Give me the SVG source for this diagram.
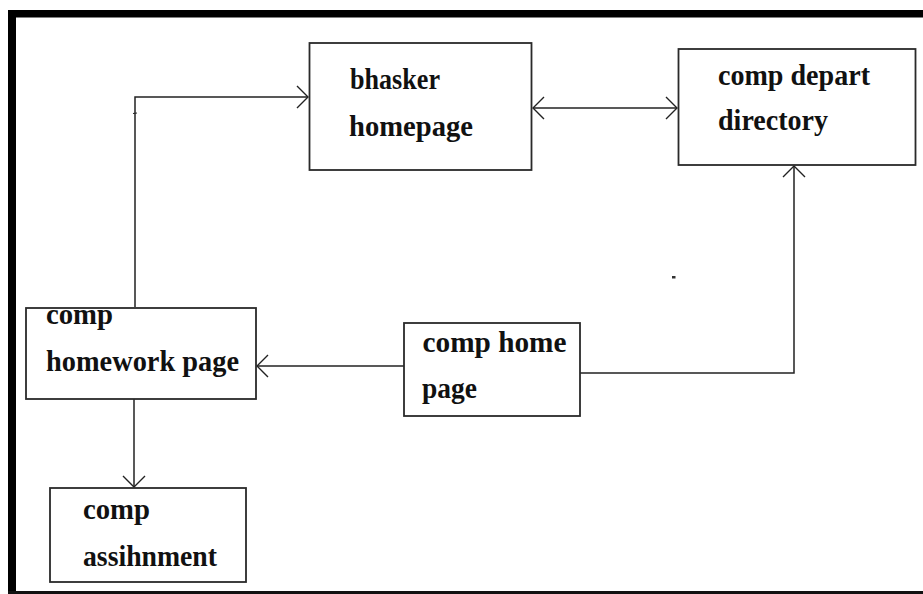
<svg xmlns="http://www.w3.org/2000/svg" width="923" height="594" viewBox="0 0 923 594">
  <style>
    .box { fill: #ffffff; stroke: #2a2a2a; stroke-width: 1.8; }
    .lbl { font-family: "Liberation Serif", "Times New Roman", serif; font-weight: bold; font-size: 29px; fill: #111111; }
    .wire { fill: none; stroke: #222222; stroke-width: 1.5; }
  </style>
  <defs>
    <marker id="vhead" markerUnits="userSpaceOnUse" markerWidth="30" markerHeight="30" viewBox="-15 -15 30 30" refX="0" refY="0" orient="auto-start-reverse">
      <path d="M-11,-11 L0,0 L-11,11" fill="none" stroke="#222222" stroke-width="1.4"/>
    </marker>
  </defs>

  <!-- page background and frame -->
  <rect x="0" y="0" width="923" height="594" fill="#ffffff"/>
  <rect x="8" y="10" width="915" height="7.5" fill="#000000"/>
  <rect x="8" y="10" width="8" height="584" fill="#000000"/>
  <rect x="8" y="591" width="915" height="3" fill="#111111"/>

  <!-- connectors -->
  <g id="connectors">
    <polyline class="wire" points="135,307 135,97 308,97" marker-end="url(#vhead)"/>
    <line class="wire" x1="533" y1="108" x2="677" y2="108" marker-start="url(#vhead)" marker-end="url(#vhead)"/>
    <polyline class="wire" points="580,373 794,373 794,166" marker-end="url(#vhead)"/>
    <line class="wire" x1="404" y1="366" x2="257" y2="366" marker-end="url(#vhead)"/>
    <line class="wire" x1="134" y1="399" x2="134" y2="487" marker-end="url(#vhead)"/>
    <!-- small stray marks -->
    <line x1="133" y1="113.5" x2="137" y2="113" stroke="#222222" stroke-width="1.2"/>
    <rect x="672" y="276" width="3.5" height="2.5" fill="#333333"/>
  </g>

  <g id="bhasker-homepage">
    <rect class="box" x="309.5" y="43" width="222" height="127"/>
    <text class="lbl" x="350" y="89" textLength="90" lengthAdjust="spacingAndGlyphs">bhasker</text>
    <text class="lbl" x="349" y="136" textLength="124" lengthAdjust="spacingAndGlyphs">homepage</text>
  </g>

  <g id="comp-depart-directory">
    <rect class="box" x="678.5" y="49" width="237" height="116"/>
    <text class="lbl" x="718" y="85" textLength="152" lengthAdjust="spacingAndGlyphs">comp depart</text>
    <text class="lbl" x="718" y="130" textLength="110" lengthAdjust="spacingAndGlyphs">directory</text>
  </g>

  <g id="comp-homework-page">
    <rect class="box" x="26" y="308" width="230" height="91"/>
    <text class="lbl" x="46" y="324" textLength="67" lengthAdjust="spacingAndGlyphs">comp</text>
    <text class="lbl" x="46" y="371" textLength="193" lengthAdjust="spacingAndGlyphs">homework page</text>
  </g>

  <g id="comp-home-page">
    <rect class="box" x="404" y="323" width="176" height="93"/>
    <text class="lbl" x="422.5" y="352" textLength="144" lengthAdjust="spacingAndGlyphs">comp home</text>
    <text class="lbl" x="422" y="398" textLength="55" lengthAdjust="spacingAndGlyphs">page</text>
  </g>

  <g id="comp-assihnment">
    <rect class="box" x="50" y="488" width="196" height="94"/>
    <text class="lbl" x="83" y="519" textLength="67" lengthAdjust="spacingAndGlyphs">comp</text>
    <text class="lbl" x="83" y="566" textLength="134" lengthAdjust="spacingAndGlyphs">assihnment</text>
  </g>
</svg>
